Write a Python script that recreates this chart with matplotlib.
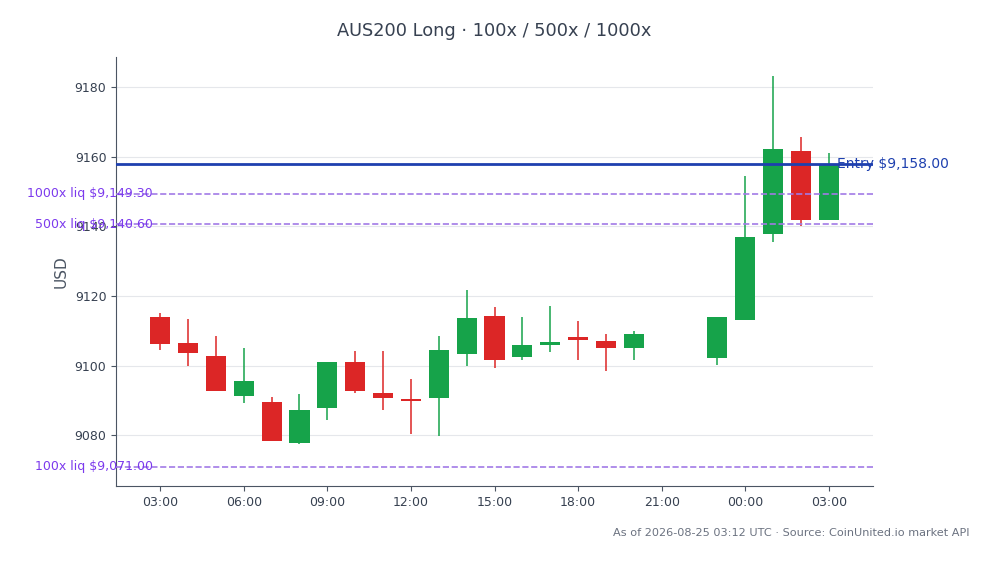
import pandas as pd
import matplotlib
matplotlib.use("Agg")
import matplotlib.pyplot as plt
import matplotlib.dates as mdates
import matplotlib.transforms as mtransforms

# hourly candles, AUS200 (gap between 20:00 and 23:00)
TIMES = [
    "2026-08-24 03:00", "2026-08-24 04:00", "2026-08-24 05:00", "2026-08-24 06:00",
    "2026-08-24 07:00", "2026-08-24 08:00", "2026-08-24 09:00", "2026-08-24 10:00",
    "2026-08-24 11:00", "2026-08-24 12:00", "2026-08-24 13:00", "2026-08-24 14:00",
    "2026-08-24 15:00", "2026-08-24 16:00", "2026-08-24 17:00", "2026-08-24 18:00",
    "2026-08-24 19:00", "2026-08-24 20:00", "2026-08-24 23:00", "2026-08-25 00:00",
    "2026-08-25 01:00", "2026-08-25 02:00", "2026-08-25 03:00",
]
OPEN = [9114.0, 9106.5, 9102.7, 9091.4, 9089.6, 9077.9, 9087.7, 9100.9,
        9092.2, 9090.5, 9090.6, 9103.2, 9114.3, 9102.4, 9105.8, 9108.1,
        9107.2, 9105.0, 9102.2, 9113.1, 9137.7, 9161.6, 9141.7]
HIGH = [9115.2, 9113.4, 9108.6, 9105.0, 9090.9, 9091.9, 9101.0, 9104.3,
        9104.3, 9096.3, 9108.6, 9121.8, 9116.9, 9114.1, 9117.0, 9112.9,
        9109.2, 9110.0, 9114.0, 9154.3, 9183.0, 9165.7, 9160.9]
LOW = [9104.5, 9099.8, 9092.6, 9089.4, 9078.3, 9077.6, 9084.4, 9092.1,
       9087.3, 9080.4, 9079.7, 9099.8, 9099.2, 9101.7, 9103.8, 9101.7,
       9098.4, 9101.7, 9100.3, 9113.1, 9135.6, 9140.1, 9141.7]
CLOSE = [9106.2, 9103.5, 9092.6, 9095.7, 9078.5, 9087.3, 9100.9, 9092.6,
         9090.6, 9089.8, 9104.6, 9113.7, 9101.7, 9106.0, 9106.8, 9107.3,
         9105.0, 9109.2, 9114.0, 9137.0, 9162.1, 9141.7, 9157.7]

ENTRY = 9158.00
LIQ_LABELS = ["1000x", "500x", "100x"]
LIQ_PRICES = [9149.30, 9140.60, 9071.00]

UP = "#16a34a"
DOWN = "#dc2626"
TEXT = "#374151"

df = pd.DataFrame({"open": OPEN, "high": HIGH, "low": LOW, "close": CLOSE},
                  index=pd.to_datetime(TIMES))

fig, ax = plt.subplots(figsize=(9.93, 5.64), dpi=100)
fig.subplots_adjust(left=0.117, right=0.879, top=0.899, bottom=0.138)

width = 0.03  # days
for t, row in df.iterrows():
    x = mdates.date2num(t)
    color = UP if row["close"] >= row["open"] else DOWN
    ax.vlines(x, row["low"], row["high"], color=color, linewidth=1.1, zorder=2)
    bottom = min(row["open"], row["close"])
    height = max(abs(row["close"] - row["open"]), 0.6)
    ax.bar(x, height, width=width, bottom=bottom, color=color, zorder=3)

trans = mtransforms.blended_transform_factory(ax.transAxes, ax.transData)

ax.axhline(ENTRY, color="#1e40af", linewidth=2, zorder=4)
ax.text(0.952, ENTRY, f"Entry ${ENTRY:,.2f}", transform=trans, color="#1e40af",
        fontsize=10, ha="left", va="center", zorder=5)

for lab, p in zip(LIQ_LABELS, LIQ_PRICES):
    ax.axhline(p, color="#a27ae6", linewidth=1.2, linestyle="--", zorder=4)
    ax.text(0.048, p, f"{lab} liq ${p:,.2f}", transform=trans, color="#7c3aed",
            fontsize=9, ha="right", va="center", zorder=5)

x0 = mdates.date2num(df.index[0])
x1 = mdates.date2num(df.index[-1])
ax.set_xlim(x0 - 1.58 / 24, x1 + 1.58 / 24)
ax.set_ylim(9065.4, 9188.6)

ax.xaxis.set_major_locator(mdates.HourLocator(byhour=range(0, 24, 3)))
ax.xaxis.set_major_formatter(mdates.DateFormatter("%H:%M"))
ax.set_yticks([9080, 9100, 9120, 9140, 9160, 9180])

ax.grid(axis="y", color="#e5e7eb", linewidth=0.8, zorder=0)
ax.set_axisbelow(True)
for s in ["top", "right"]:
    ax.spines[s].set_visible(False)
for s in ["left", "bottom"]:
    ax.spines[s].set_color("#4b5563")
ax.tick_params(colors="#4b5563", labelcolor=TEXT, labelsize=9)

ax.set_ylabel("USD", fontsize=11, color="#4b5563")
ax.set_title("AUS200 Long · 100x / 500x / 1000x", fontsize=12.8, color=TEXT, pad=15)
fig.text(0.976, 0.055, "As of 2026-08-25 03:12 UTC · Source: CoinUnited.io market API",
         ha="right", va="center", fontsize=8.1, color="#6b7280")

plt.savefig("out.png", dpi=100)
